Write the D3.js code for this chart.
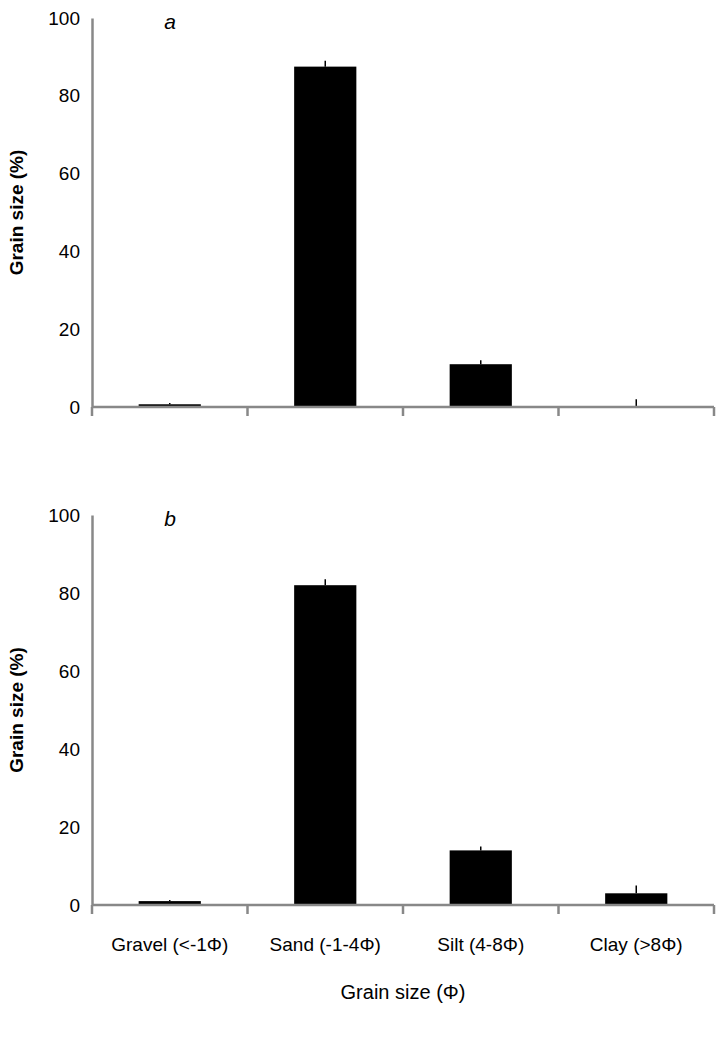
<!DOCTYPE html><html><head><meta charset="utf-8"><script src="https://cdn.jsdelivr.net/npm/d3@7/dist/d3.min.js"></script>
<style>body{margin:0;background:#fff}text{font-family:"Liberation Sans",Arial,sans-serif}</style></head><body>
<script>
const categories=["Gravel (<-1Φ)","Sand (-1-4Φ)","Silt (4-8Φ)","Clay (>8Φ)"];
const valuesA=[0.7,87.5,11,0];
const errorsA=[0.3,1.5,1,2];
const valuesB=[1,82,14,3];
const errorsB=[0.3,1.5,1,2];
const yTicks=[0,20,40,60,80,100];
const svg=d3.select("body").append("svg").attr("width",719).attr("height",1040);
const x=d3.scaleBand().domain(categories).range([92,714]).paddingInner(0.6).paddingOuter(0.3);
function panel(vals,errs,top,bottom,label,showX){
  const y=d3.scaleLinear().domain([0,100]).range([bottom,top]);
  const g=svg.append("g");
  g.selectAll("rect").data(vals).join("rect").attr("x",(d,i)=>x(categories[i])).attr("width",x.bandwidth())
   .attr("y",d=>y(d)).attr("height",d=>bottom-y(d)).attr("fill","#000");
  g.selectAll("line.e").data(vals).join("line").attr("class","e")
   .attr("x1",(d,i)=>x(categories[i])+x.bandwidth()/2).attr("x2",(d,i)=>x(categories[i])+x.bandwidth()/2)
   .attr("y1",d=>y(d)).attr("y2",(d,i)=>y(d+errs[i])).attr("stroke","#000").attr("stroke-width",1.5);
  const ya=g.append("g").attr("transform","translate(92,0)").call(d3.axisLeft(y).tickValues(yTicks).tickSize(0).tickPadding(12));
  ya.select(".domain").attr("stroke","#888").attr("stroke-width",2.5);
  ya.selectAll("text").attr("font-size",19).attr("fill","#000");
  const xs=[92,...categories.map((c,i)=>92+(i+1)*(714-92)/4)];
  g.append("line").attr("x1",92).attr("x2",714).attr("y1",bottom).attr("y2",bottom).attr("stroke","#888").attr("stroke-width",2.5);
  g.selectAll("line.t").data(xs).join("line").attr("class","t").attr("x1",d=>d).attr("x2",d=>d).attr("y1",bottom).attr("y2",bottom+9).attr("stroke","#888").attr("stroke-width",2.5);
  g.append("text").attr("x",170).attr("y",top+11).attr("font-style","italic").attr("font-size",21).attr("text-anchor","middle").text(label);
  g.append("text").attr("transform",`translate(23,${(top+bottom)/2}) rotate(-90)`).attr("text-anchor","middle").attr("font-weight","bold").attr("font-size",19).text("Grain size (%)");
  if(showX){
    g.selectAll("text.c").data(categories).join("text").attr("class","c").attr("x",d=>x(d)+x.bandwidth()/2).attr("y",bottom+46)
     .attr("text-anchor","middle").attr("font-size",19).text(d=>d);
  }
}
panel(valuesA,errorsA,18,407,"a",false);
panel(valuesB,errorsB,515,905,"b",true);
svg.append("text").attr("x",403).attr("y",999).attr("text-anchor","middle").attr("font-size",20).text("Grain size (Φ)");
</script></body></html>
